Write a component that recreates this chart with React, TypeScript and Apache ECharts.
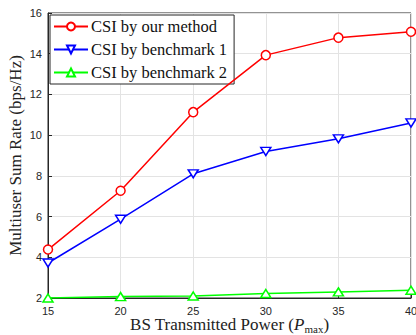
import React, { useEffect, useRef } from "react";
import * as echarts from "echarts";

const powers = [15, 20, 25, 30, 35, 40];
const ourMethod = [4.38, 7.27, 11.13, 13.93, 14.79, 15.08];
const benchmark1 = [3.72, 5.87, 8.1, 9.2, 9.82, 10.6];
const benchmark2 = [2.0, 2.07, 2.1, 2.22, 2.3, 2.38];
const seriesNames = ["CSI by our method", "CSI by benchmark 1", "CSI by benchmark 2"];

const axisInk = "#262626";
const serif = "'Liberation Serif', 'DejaVu Serif', serif";
const sans = "'Liberation Sans', Arial, sans-serif";

export default function App() {
  const ref = useRef<HTMLDivElement>(null);

  useEffect(() => {
    if (!ref.current) return;
    const chart = echarts.init(ref.current, null, { renderer: "svg" });
    const pairs = (ys: number[]) => powers.map((x, i) => [x, ys[i]]);

    chart.setOption({
      animation: false,
      backgroundColor: "#ffffff",
      grid: {
        left: 48,
        right: 5,
        top: 13,
        bottom: 37,
        outerBoundsMode: "none",
        containLabel: false,
        show: true,
        borderColor: axisInk,
        borderWidth: 1,
      },
      legend: {
        orient: "vertical",
        left: 50,
        top: 15,
        itemWidth: 34,
        itemHeight: 10,
        itemGap: 6,
        padding: [3, 7, 3, 3],
        borderColor: axisInk,
        borderWidth: 1,
        backgroundColor: "#ffffff",
        textStyle: { fontFamily: serif, fontSize: 16.5, color: "#111", padding: [0, 0, 0, -2] },
        data: seriesNames,
      },
      xAxis: {
        type: "value",
        min: 15,
        max: 40,
        interval: 5,
        name: "{a|BS Transmitted Power (}{i|P}{s|max}{a|)}",
        nameLocation: "middle",
        nameGap: 18,
        nameMoveOverlap: false,
        nameTextStyle: {
          verticalAlign: "top",
          rich: {
            a: { fontFamily: serif, fontSize: 17, color: "#222", lineHeight: 15, verticalAlign: "top" },
            i: { fontFamily: serif, fontSize: 17, fontStyle: "italic", color: "#222", lineHeight: 15, verticalAlign: "top" },
            s: { fontFamily: serif, fontSize: 11, color: "#222", lineHeight: 11, padding: [7, 0, 0, 0], verticalAlign: "top" },
          },
        },
        axisLine: { lineStyle: { color: axisInk, width: 1 } },
        axisTick: { inside: true, length: 4, lineStyle: { color: axisInk } },
        axisLabel: { fontFamily: sans, fontSize: 11, lineHeight: 11, color: axisInk, margin: 7 },
        splitLine: { lineStyle: { color: "#e3e3e3", width: 1 } },
      },
      yAxis: {
        type: "value",
        min: 2,
        max: 16,
        interval: 2,
        name: "Multiuser Sum Rate (bps/Hz)",
        nameLocation: "middle",
        nameGap: 24,
        nameMoveOverlap: false,
        nameTextStyle: { fontFamily: serif, fontSize: 17, color: "#222" },
        axisLine: { show: true, lineStyle: { color: axisInk, width: 1 } },
        axisTick: { show: true, inside: true, length: 4, lineStyle: { color: axisInk } },
        axisLabel: { fontFamily: sans, fontSize: 11, color: axisInk, margin: 6 },
        splitLine: { lineStyle: { color: "#e3e3e3", width: 1 } },
      },
      series: [
        {
          name: seriesNames[0],
          type: "line",
          data: pairs(ourMethod),
          color: "#ff0000",
          symbol: "circle",
          symbolSize: 9,
          lineStyle: { color: "#ff0000", width: 1.5 },
          itemStyle: { color: "#ffffff", borderColor: "#ff0000", borderWidth: 1.5 },
          z: 4,
        },
        {
          name: seriesNames[1],
          type: "line",
          data: pairs(benchmark1),
          color: "#0000ff",
          symbol: "triangle",
          symbolRotate: 180,
          symbolSize: [10, 8],
          lineStyle: { color: "#0000ff", width: 1.5 },
          itemStyle: { color: "#ffffff", borderColor: "#0000ff", borderWidth: 1.5 },
          z: 3,
        },
        {
          name: seriesNames[2],
          type: "line",
          data: pairs(benchmark2),
          color: "#00ff00",
          symbol: "triangle",
          symbolSize: [10, 8],
          lineStyle: { color: "#00ff00", width: 1.5 },
          itemStyle: { color: "#ffffff", borderColor: "#00ff00", borderWidth: 1.5 },
          z: 2,
        },
      ],
    });

    return () => chart.dispose();
  }, []);

  return <div ref={ref} style={{ width: 416, height: 335, position: "absolute", left: 0, top: 0 }} />;
}
